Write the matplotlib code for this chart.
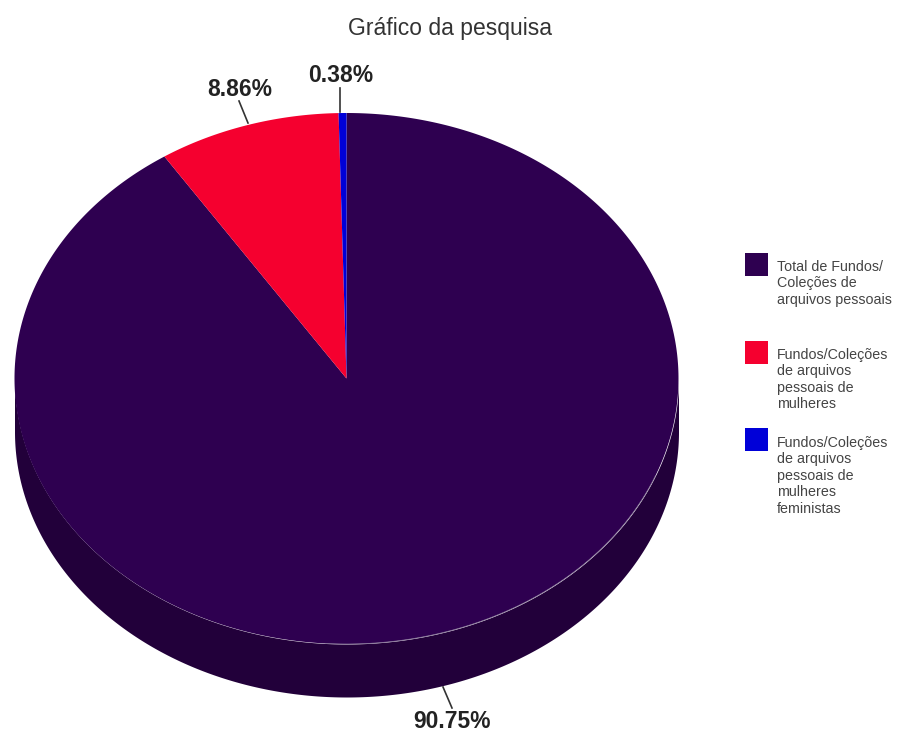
import numpy as np
import matplotlib
matplotlib.use("Agg")
import matplotlib.pyplot as plt
from matplotlib.patches import Rectangle

plt.rcParams['font.family'] = ['Liberation Sans']

title = "Gráfico da pesquisa"
values = [90.75, 8.86, 0.38]
labels = ["90.75%", "8.86%", "0.38%"]
legend_labels = ["Total de Fundos/\nColeções de\narquivos pessoais",
                 "Fundos/Coleções\nde arquivos\npessoais de\nmulheres",
                 "Fundos/Coleções\nde arquivos\npessoais de\nmulheres\nfeministas"]
colors = ["#2e0050", "#f5002f", "#0000d8"]
side = "#22003a"

W, H = 897, 732
fig = plt.figure(figsize=(W/100, H/100), dpi=100)
ax = fig.add_axes([0, 0, 1, 1])
ax.set_xlim(0, W); ax.set_ylim(H, 0); ax.axis("off")

cx, cy, rx, ry, depth = 346.5, 378.5, 332, 265.5, 53

# side wall
t = np.linspace(0, np.pi, 300)
xs = cx + rx*np.cos(t)
ax.fill_between(xs, cy + ry*np.sin(t), cy + depth + ry*np.sin(t), color=side, lw=0, zorder=1)

# slices start at the top, running clockwise
ang = 0.0
for i in [0, 1, 2]:
    sweep = values[i]/sum(values)*2*np.pi
    a = np.linspace(ang, ang + sweep, 600)
    px = np.r_[cx, cx + rx*np.sin(a)]
    py = np.r_[cy, cy - ry*np.cos(a)]
    ax.fill(px, py, color=colors[i], lw=0, zorder=2)
    ang += sweep

# rim highlight at the front of the top face
t2 = np.linspace(0.12*np.pi, 0.52*np.pi, 200)
ax.plot(cx + rx*np.cos(t2), cy + ry*np.sin(t2), color="#7d6a90", lw=0.5, zorder=3)

# leaders
for (x0, y0, x1, y1) in [(452, 708, 443, 687), (248, 123, 239, 101), (340, 112, 340, 88)]:
    ax.plot([x0, x1], [y0, y1], color="#333333", lw=1.2, zorder=4)

ax.text(450, 29, title, ha="center", va="center", fontsize=16.5, color="#333333")
ax.text(452, 721, labels[0], ha="center", va="center", fontsize=16.5, fontweight="bold", color="#222222")
ax.text(240, 89, labels[1], ha="center", va="center", fontsize=16.5, fontweight="bold", color="#222222")
ax.text(341, 76, labels[2], ha="center", va="center", fontsize=16.5, fontweight="bold", color="#222222")

for lab, col, by, ty in zip(legend_labels, colors, [253, 341, 428], [260, 348, 436]):
    ax.add_patch(Rectangle((745, by), 23, 23, fc=col, ec="none"))
    ax.text(777, ty, lab, ha="left", va="top", fontsize=10.3, color="#444444", linespacing=1.22)

fig.savefig("out.png", dpi=100)
